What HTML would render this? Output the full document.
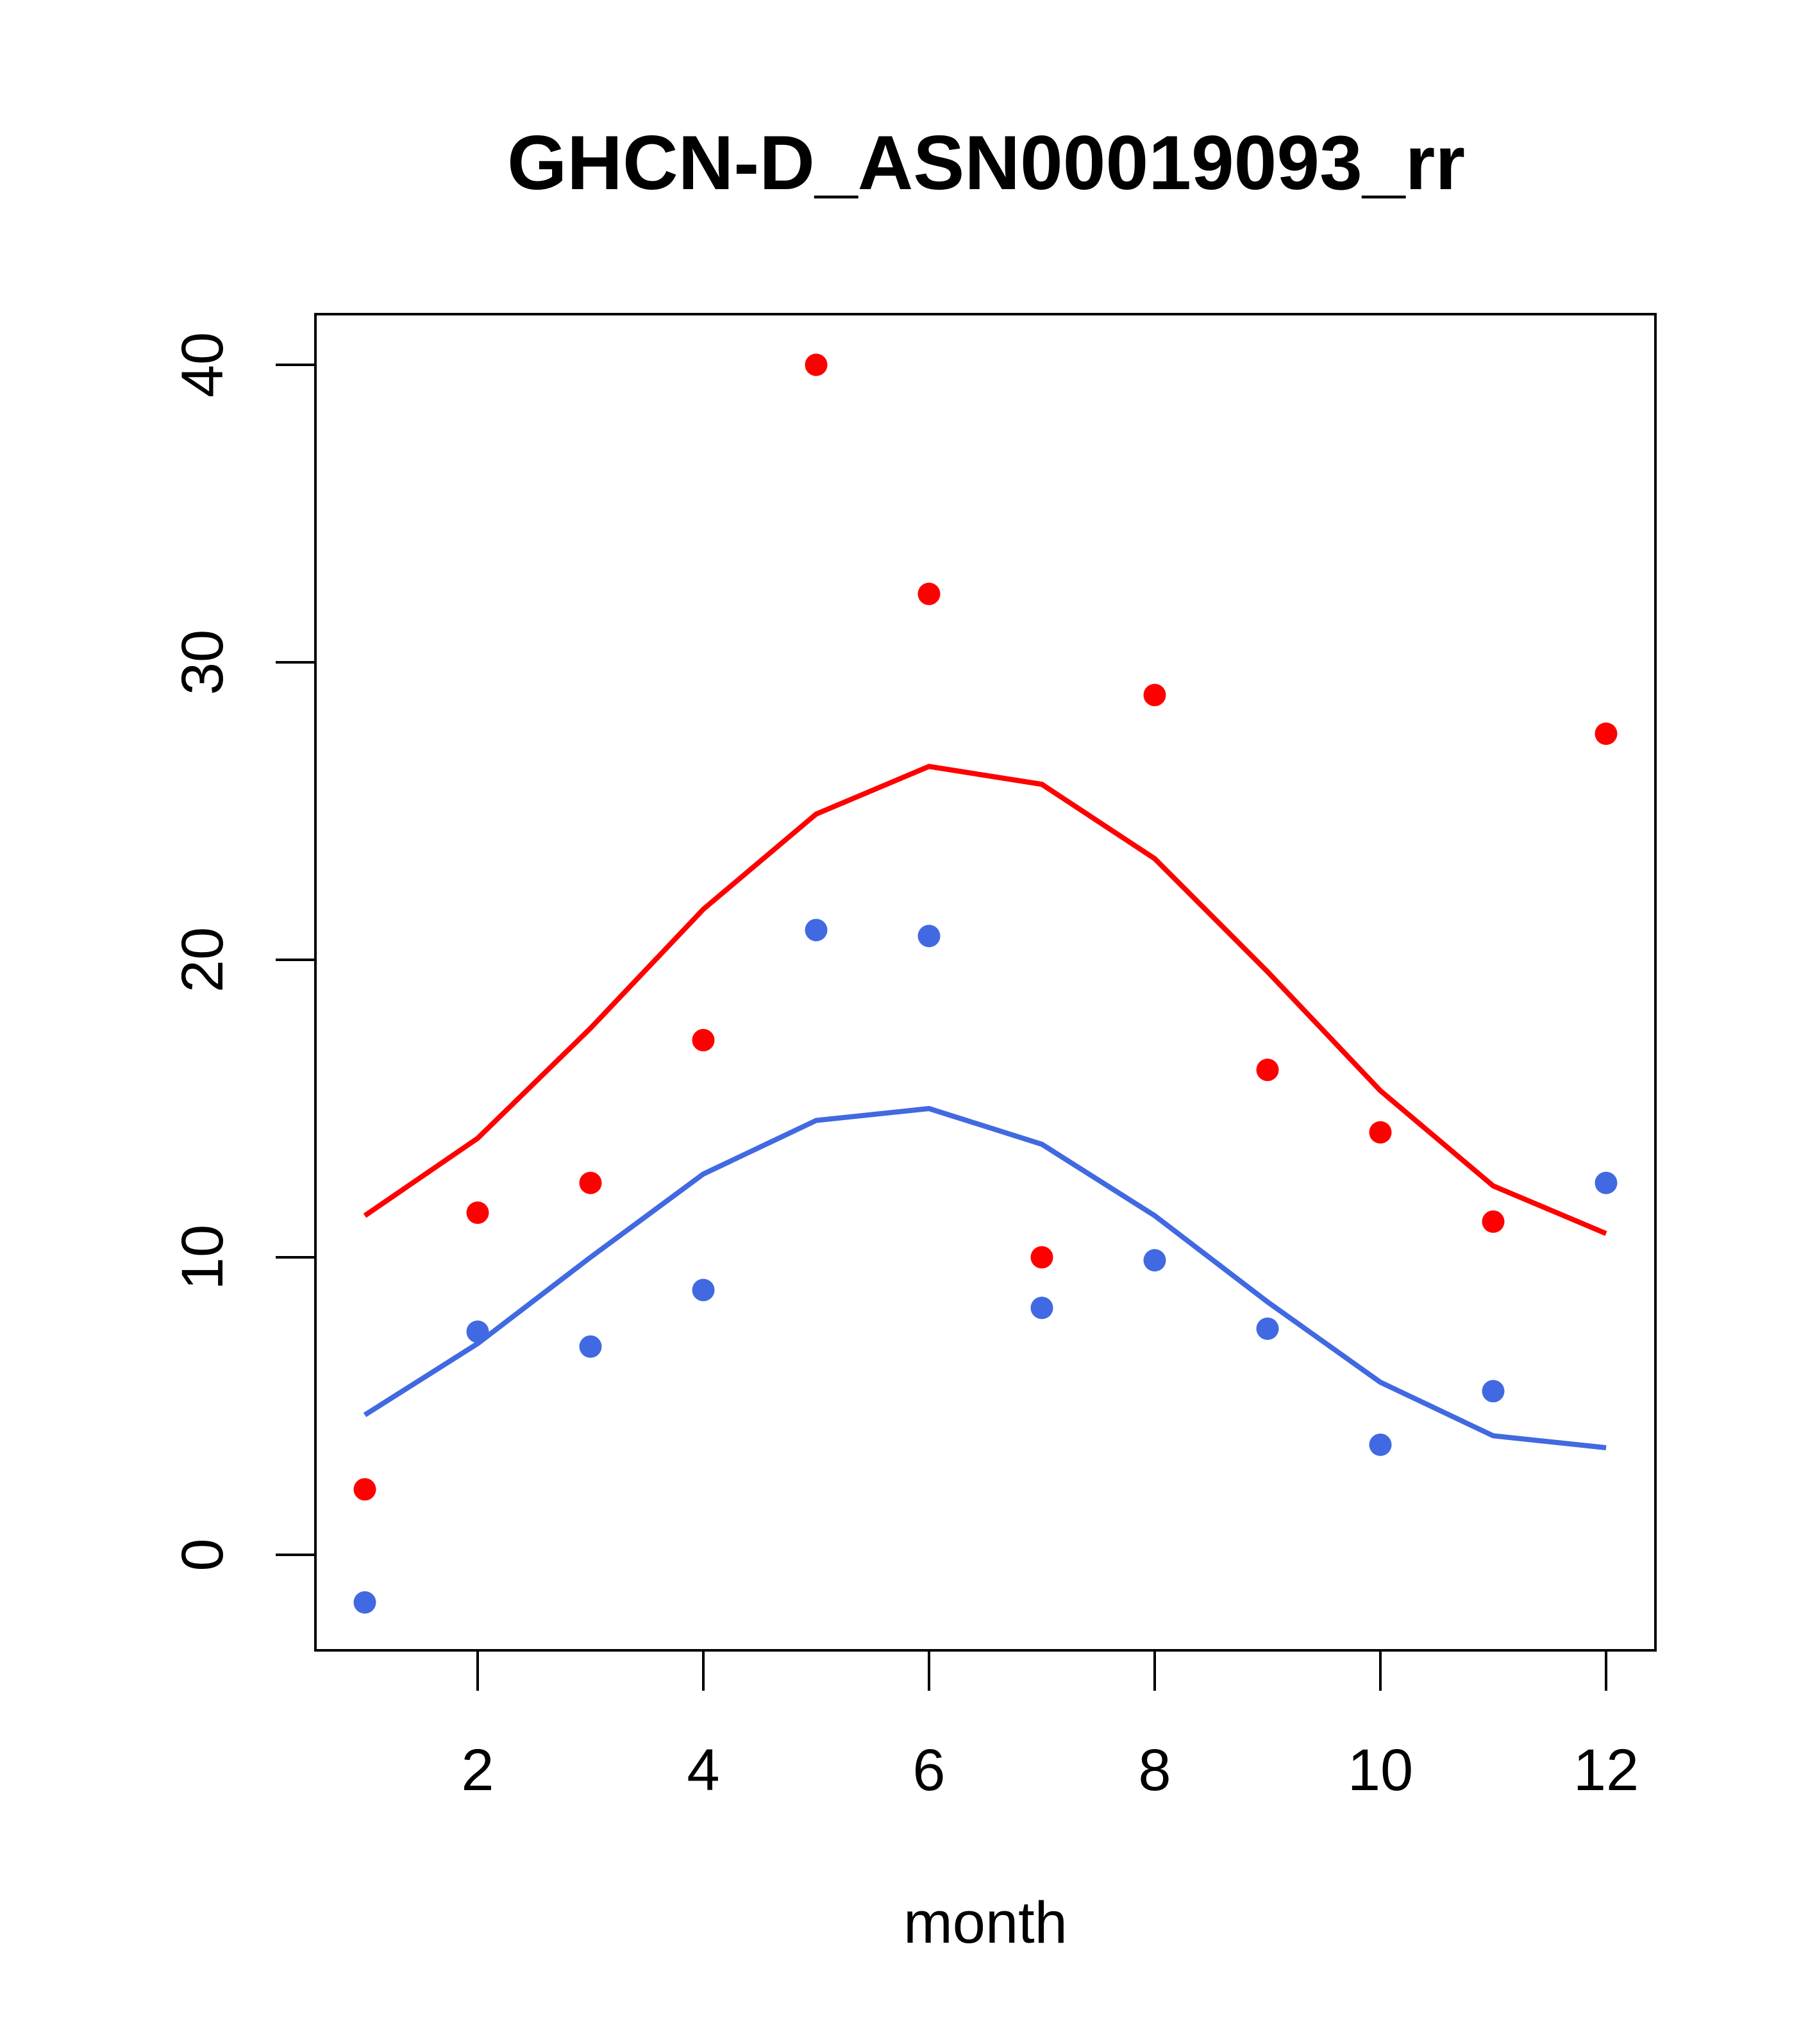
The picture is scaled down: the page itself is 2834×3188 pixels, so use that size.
<!DOCTYPE html>
<html><head><meta charset="utf-8"><style>html,body{margin:0;padding:0;background:#fff}svg{display:block}</style></head>
<body>
<svg id="chart" width="2834" height="3188" xmlns="http://www.w3.org/2000/svg" font-family="Liberation Sans, sans-serif">
<rect width="2834" height="3188" fill="#fff"/>
<text x="1538" y="295" font-size="120" font-weight="bold" text-anchor="middle">GHCN-D_ASN00019093_rr</text>
<rect x="492" y="490" width="2090" height="2084" fill="none" stroke="#000" stroke-width="4"/>
<g id="axes"></g>
<g id="series"></g>
<text x="1537" y="3030" font-size="92" text-anchor="middle">month</text>
</svg>
<script>
const months=[1,2,3,4,5,6,7,8,9,10,11,12];
const redPoints=[2.2,11.5,12.5,17.3,40.0,32.3,10.0,28.9,16.3,14.2,11.2,27.6];
const redLine=[11.4,14.0,17.7,21.7,24.9,26.5,25.9,23.4,19.6,15.6,12.4,10.8];
const bluePoints=[-1.6,7.5,7.0,8.9,21.0,20.8,8.3,9.9,7.6,3.7,5.5,12.5];
const blueLine=[4.7,7.1,10.0,12.8,14.6,15.0,13.8,11.4,8.5,5.8,4.0,3.6];
const xTicks=[2,4,6,8,10,12];
const yTicks=[0,10,20,30,40];
const NS="http://www.w3.org/2000/svg";
function xs(m){return 569+(m-1)*(2505-569)/11;}
function ys(v){return 2425-v*(2425-569)/40;}
function mk(t,a,p){const e=document.createElementNS(NS,t);for(const k in a)e.setAttribute(k,a[k]);p.appendChild(e);return e;}
const ax=document.getElementById('axes');
xTicks.forEach(t=>{
 const l=mk('line',{x1:xs(t),x2:xs(t),y1:2574,y2:2637,stroke:'#000','stroke-width':4},ax);
 
 
 const tx=mk('text',{x:xs(t),y:2792,'font-size':92,'text-anchor':'middle'},ax);tx.textContent=t;
 
 
});
mk('line',{x1:xs(2),x2:xs(12),y1:2574,y2:2574,stroke:'#000','stroke-width':4},ax);
yTicks.forEach(t=>{
 const l=mk('line',{x1:430,x2:492,y1:ys(t),y2:ys(t),stroke:'#000','stroke-width':4},ax);
 
 
 const tx=mk('text',{x:0,y:0,'font-size':92,'text-anchor':'middle',transform:`translate(347,${ys(t)}) rotate(-90)`},ax);tx.textContent=t;
 
 
});
const sr=document.getElementById('series');
function line(vals,col,name){
 const p=mk('polyline',{points:vals.map((v,i)=>xs(months[i])+','+ys(v)).join(' '),fill:'none',stroke:col,'stroke-width':8},sr);
 
 
}
function pts(vals,col,name){
 vals.forEach((v,i)=>{
  const c=mk('circle',{cx:xs(months[i]),cy:ys(v),r:17.5,fill:col},sr);
  
  
 });
}
line(redLine,'#ff0000','red-line');
line(blueLine,'#4169e1','blue-line');
pts(redPoints,'#ff0000','red-point');
pts(bluePoints,'#4169e1','blue-point');
</script>
</body></html>
